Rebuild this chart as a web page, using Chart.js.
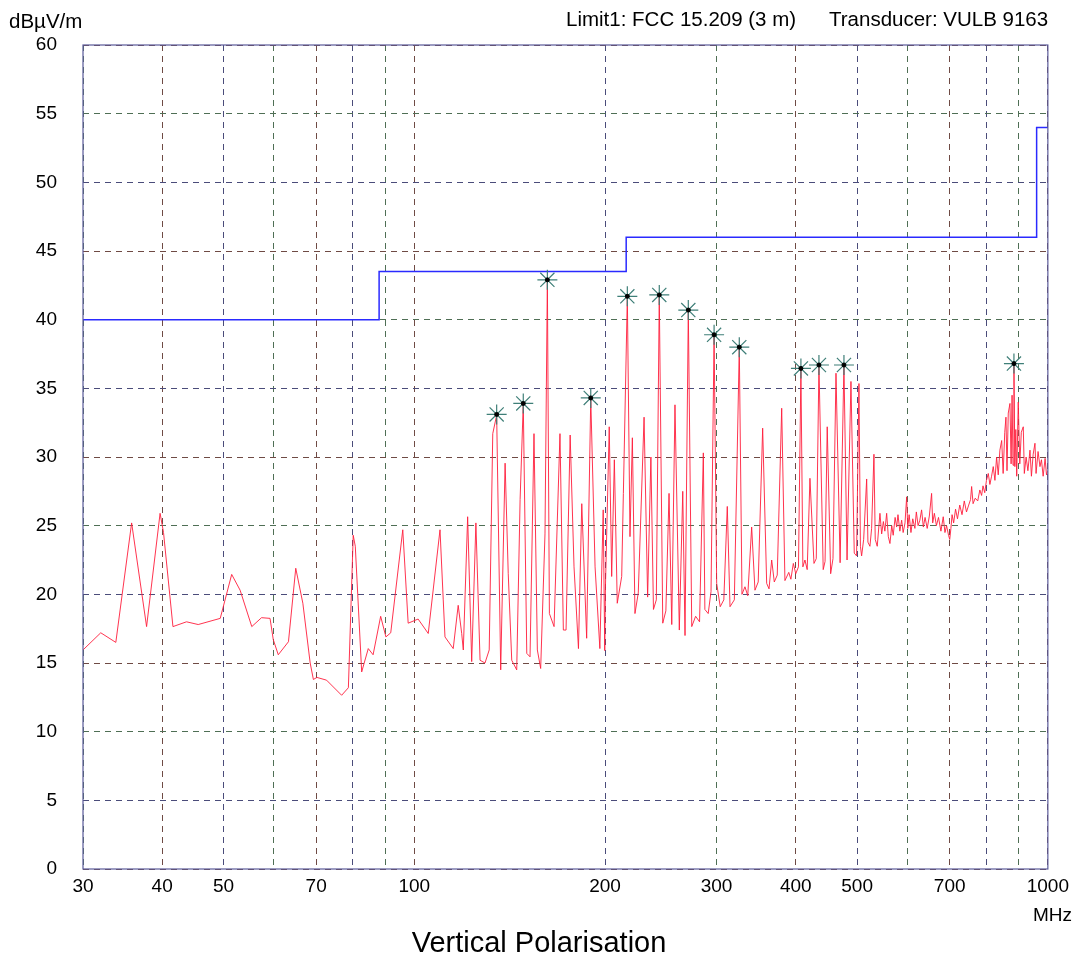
<!DOCTYPE html>
<html>
<head>
<meta charset="utf-8">
<script src="https://cdn.jsdelivr.net/npm/chart.js@4.4.1/dist/chart.umd.min.js"></script>
<style>
html, body { margin: 0; padding: 0; background: #fff; }
canvas { display: block; }
</style>
</head>
<body>
<canvas id="myChart" width="1075" height="959"></canvas>
<script>
// measured trace (MHz / dBuV/m)
var freqMHz = [30.0, 32.0, 33.8, 35.8, 37.8, 39.7, 40.2, 41.6, 43.7, 45.6, 49.4, 51.5, 53.1, 55.4, 57.4, 59.2, 59.9, 61.0, 63.3, 65.0,
    66.7, 68.5, 69.3, 70.2, 72.7, 76.8, 78.7, 80.1, 80.7, 82.6, 84.6, 86.1, 88.5, 90.2, 91.8, 95.9, 97.8, 101.4, 105.2, 109.8,
    111.1, 111.8, 115.2, 117.3, 118.8, 119.5, 121.4, 123.2, 125.1, 127.0, 129.3, 131.3, 133.0, 134.9, 136.9, 139.1, 140.7, 142.5, 145.1, 146.9,
    148.6, 150.5, 152.3, 154.5, 156.4, 158.3, 160.8, 162.2, 163.4, 166.2, 169.8, 171.9, 173.6, 176.2, 178.7, 181.6, 183.8, 187.1, 189.9, 192.9,
    196.3, 198.7, 199.8, 200.3, 203.1, 204.9, 206.9, 209.1, 212.5, 213.8, 216.9, 219.0, 220.9, 223.0, 225.7, 230.5, 233.5, 236.3, 238.5, 241.0,
    243.6, 246.7, 249.5, 252.4, 254.9, 257.9, 262.0, 265.3, 267.5, 270.7, 274.1, 278.0, 282.0, 285.9, 287.5, 291.0, 294.0, 297.3, 300.1, 304.0,
    308.0, 311.9, 315.0, 320.0, 325.8, 329.0, 332.6, 336.0, 340.8, 344.9, 349.0, 354.7, 359.9, 363.0, 366.5, 370.0, 374.0, 380.1, 384.6, 390.0,
    393.0, 396.5, 400.0, 404.0, 407.6, 410.5, 413.6, 417.0, 421.2, 427.4, 431.0, 435.2, 442.0, 445.0, 448.5, 454.1, 458.0, 463.0, 470.0, 476.6,
    482.0, 488.9, 494.8, 499.0, 503.3, 506.0, 508.2, 512.0, 517.6, 520.0, 523.8, 527.0, 531.5, 534.0, 537.9, 543.2, 546.6, 550.0, 553.0, 556.6,
    560.0, 563.3, 567.0, 570.0, 574.0, 577.2, 580.0, 584.0, 587.8, 591.0, 595.0, 598.6, 601.0, 604.0, 608.0, 612.0, 616.8, 620.0, 624.0, 628.0,
    632.0, 636.0, 640.0, 645.0, 650.0, 655.4, 658.0, 662.0, 667.0, 672.0, 678.0, 683.7, 688.0, 692.0, 697.0, 700.0, 703.0, 706.0, 710.0, 715.0,
    720.0, 726.0, 732.0, 738.0, 744.0, 750.0, 755.0, 758.0, 762.0, 768.0, 775.0, 781.0, 786.0, 790.0, 795.0, 800.0, 805.3, 810.0, 815.0, 820.0,
    825.0, 830.0, 835.0, 840.0, 845.5, 850.0, 855.0, 858.7, 862.0, 866.0, 871.3, 875.0, 878.0, 881.0, 884.0, 887.0, 890.0, 893.0, 898.0, 903.0,
    908.0, 914.5, 918.0, 924.0, 930.0, 937.1, 942.0, 948.0, 954.2, 958.0, 965.0, 971.7, 977.0, 983.0, 990.0, 995.0, 1000.0];
var levelDb = [15.95, 17.2, 16.5, 25.2, 17.65, 25.9, 24.5, 17.65, 18.0, 17.8, 18.25, 21.45, 20.3, 17.65, 18.3, 18.25, 16.7, 15.6, 16.55, 21.9,
    19.35, 15.0, 13.8, 13.95, 13.75, 12.65, 13.2, 24.3, 23.5, 14.35, 16.05, 15.6, 18.4, 16.9, 17.2, 24.7, 17.9, 18.2, 17.15, 24.7,
    19.6, 16.9, 16.05, 19.2, 17.15, 15.95, 25.65, 15.1, 25.2, 15.2, 15.0, 15.95, 31.7, 33.05, 14.5, 29.55, 21.5, 15.2, 14.5, 26.9,
    33.9, 15.7, 15.45, 31.7, 15.95, 14.6, 24.4, 42.9, 18.6, 17.65, 31.7, 17.4, 17.4, 31.6, 22.0, 16.05, 26.6, 16.8, 34.3, 22.0,
    16.05, 26.15, 15.9, 20.5, 32.2, 21.3, 29.8, 19.35, 21.3, 27.35, 41.7, 24.2, 31.4, 18.6, 20.1, 32.9, 19.8, 30.0, 18.9, 19.6,
    41.8, 17.9, 18.8, 27.35, 17.8, 33.8, 17.4, 27.5, 17.0, 40.7, 17.65, 18.4, 18.0, 30.3, 18.9, 18.6, 20.2, 38.9, 20.8, 19.1,
    19.6, 26.4, 19.1, 19.6, 38.0, 20.0, 20.55, 19.9, 24.9, 20.3, 20.9, 32.1, 20.8, 20.4, 22.5, 20.9, 21.4, 33.55, 21.0, 21.6,
    21.1, 22.25, 21.5, 22.0, 36.45, 22.0, 22.5, 21.8, 28.45, 22.25, 22.6, 36.7, 21.8, 22.4, 32.2, 21.5, 22.6, 36.1, 22.3, 36.7,
    22.5, 35.5, 23.0, 22.8, 35.35, 23.5, 22.8, 24.0, 28.4, 23.8, 23.5, 24.8, 30.2, 24.0, 23.5, 25.9, 24.4, 25.3, 24.6, 25.9,
    24.2, 23.7, 25.0, 24.3, 25.6, 24.9, 25.8, 24.6, 25.4, 24.5, 25.2, 27.1, 24.8, 25.8, 24.5, 25.5, 24.8, 26.0, 25.0, 25.4,
    26.15, 24.9, 25.6, 24.8, 25.7, 27.35, 25.2, 25.9, 25.0, 25.6, 24.6, 25.65, 24.5, 25.0, 24.3, 24.0, 24.8, 25.8, 25.2, 26.2,
    25.5, 26.5, 25.8, 26.8, 26.0, 26.5, 26.9, 27.85, 26.6, 27.0, 26.8, 27.6, 27.2, 27.9, 27.4, 28.3, 28.8, 28.0, 28.6, 29.3,
    28.3, 30.0, 28.7, 30.5, 31.2, 28.8, 31.8, 32.9, 29.0, 33.2, 33.9, 29.5, 34.5, 29.4, 36.8, 29.3, 32.0, 28.6, 34.0, 29.5,
    31.8, 32.2, 28.8, 30.0, 29.0, 30.5, 28.6, 30.2, 31.0, 28.8, 30.4, 29.3, 29.8, 28.6, 29.9, 28.7, 29.0];

// FCC 15.209 (3 m) limit steps
var limitFreq = [30, 88, 216, 960, 1000];
var limitLevel = [40, 43.5, 46, 54, 54];

// marked peaks
var peakFreq = [134.9, 148.6, 162.2, 189.9, 216.9, 243.6, 270.7, 297.3, 325.8, 407.6, 435.2, 476.6, 884.0];
var peakLevel = [33.1, 33.9, 42.9, 34.3, 41.7, 41.8, 40.7, 38.9, 38.0, 36.45, 36.7, 36.7, 36.8];

var xTicks = [30, 40, 50, 60, 70, 80, 90, 100, 200, 300, 400, 500, 600, 700, 800, 900, 1000];
var xLabels = [30, 40, 50, 70, 100, 200, 300, 400, 500, 700, 1000];

var FONT = '"Liberation Sans", Arial, sans-serif';
var gridPalette = ['#4f6f55', '#6f4a44', '#4a4c7a'];

function toPoints(xs, ys) {
    return xs.map(function (x, i) { return { x: x, y: ys[i] }; });
}

var extras = {
    id: 'extras',
    afterDraw: function (chart) {
        var ctx = chart.ctx, a = chart.chartArea;
        ctx.save();
        ctx.strokeStyle = '#5a5a9a';
        ctx.lineWidth = 1.2;
        ctx.strokeRect(a.left, a.top, a.right - a.left, a.bottom - a.top);
        ctx.fillStyle = '#000';
        ctx.textBaseline = 'alphabetic';
        ctx.font = '20.5px ' + FONT;
        ctx.textAlign = 'left';
        ctx.fillText('dBµV/m', 9, 28);
        ctx.fillText('Limit1: FCC 15.209 (3 m)', 566, 26);
        ctx.fillText('Transducer: VULB 9163', 829, 26);
        ctx.font = '19px ' + FONT;
        ctx.textAlign = 'right';
        ctx.fillText('MHz', 1072, 921);
        ctx.textAlign = 'center';
        ctx.font = '29px ' + FONT;
        ctx.fillText('Vertical Polarisation', 539, 952);
        ctx.restore();
    }
};

var ctx = document.getElementById('myChart').getContext('2d');
var myChart = new Chart(ctx, {
    type: 'line',
    data: {
        datasets: [{
            label: 'Level',
            data: toPoints(freqMHz, levelDb),
            borderColor: 'rgba(255, 30, 60, 0.9)',
            borderWidth: 1,
            pointRadius: 0,
            tension: 0,
            order: 3
        }, {
            label: 'Limit1',
            data: toPoints(limitFreq, limitLevel),
            stepped: 'before',
            borderColor: '#2a2aff',
            borderWidth: 1.5,
            pointRadius: 0,
            order: 2
        }, {
            label: 'Peaks',
            data: toPoints(peakFreq, peakLevel),
            showLine: false,
            pointStyle: 'star',
            pointRadius: 10,
            borderColor: '#3f7f78',
            borderWidth: 1.2,
            order: 1
        }, {
            label: 'PeakDots',
            data: toPoints(peakFreq, peakLevel),
            showLine: false,
            pointStyle: 'circle',
            pointRadius: 2,
            backgroundColor: '#000',
            borderColor: '#000',
            order: 0
        }]
    },
    options: {
        responsive: false,
        devicePixelRatio: 1,
        animation: false,
        layout: { padding: { top: 45, right: 27, left: 0, bottom: 0 } },
        plugins: { legend: { display: false }, tooltip: { enabled: false } },
        scales: {
            x: {
                type: 'logarithmic',
                min: 30,
                max: 1000,
                afterBuildTicks: function (scale) {
                    scale.ticks = xTicks.map(function (v) { return { value: v }; });
                },
                afterFit: function (scale) { scale.height = 90; },
                grid: {
                    drawTicks: false,
                    lineWidth: 1,
                    color: function (c) { return gridPalette[c.index % 3]; }
                },
                border: { display: false, dash: [6, 5] },
                ticks: {
                    autoSkip: false,
                    maxRotation: 0,
                    padding: 6,
                    color: '#000',
                    font: { family: FONT, size: 19 },
                    callback: function (v) { return xLabels.indexOf(v) >= 0 ? String(v) : ''; }
                }
            },
            y: {
                min: 0,
                max: 60,
                afterFit: function (scale) { scale.width = 83; },
                grid: {
                    drawTicks: false,
                    lineWidth: 1,
                    color: function (c) { return gridPalette[(c.index + 1) % 3]; }
                },
                border: { display: false, dash: [6, 5] },
                ticks: {
                    stepSize: 5,
                    padding: 26,
                    color: '#000',
                    font: { family: FONT, size: 19 }
                }
            }
        }
    },
    plugins: [extras]
});
</script>
</body>
</html>
